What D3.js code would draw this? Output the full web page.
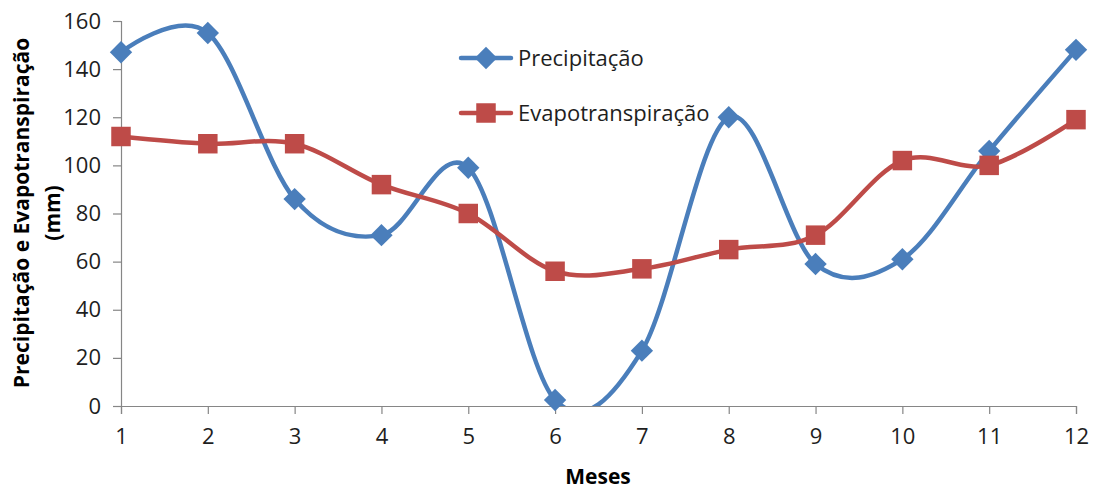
<!DOCTYPE html>
<html>
<head>
<meta charset="utf-8">
<script src="https://cdn.jsdelivr.net/npm/d3@7"></script>
<style>
  html, body { margin: 0; padding: 0; background: #fff; }
  svg { display: block; }
  text { font-family: "Open Sans", "Liberation Sans", sans-serif; }
</style>
</head>
<body>
<svg id="chart" width="1094" height="490"></svg>
<script>
// Monthly rainfall and evapotranspiration (mm)
const months = [1, 2, 3, 4, 5, 6, 7, 8, 9, 10, 11, 12];
const precipitacao = [147, 155, 86, 71, 99, 2.5, 23, 120, 59, 61, 106, 148];
const evapotranspiracao = [112, 109, 109, 92, 80, 56, 57, 65, 71, 102, 100, 119];
const yTicks = [0, 20, 40, 60, 80, 100, 120, 140, 160];
const seriesNames = ["Precipitação", "Evapotranspiração"];

const svg = d3.select("#chart");
const plot = { left: 121, right: 1076, top: 21, bottom: 406 };

const x = d3.scaleLinear().domain([1, 12]).range([plot.left, plot.right]);
const y = d3.scaleLinear().domain([0, 160]).range([plot.bottom, plot.top]);

const axisColor = "#868686";
const textColor = "#1e1e1e";
const blue = "#4A7EBB";
const red = "#BE4B48";

// Clip lines to the plot area
svg.append("defs").append("clipPath").attr("id", "plotClip")
  .append("rect")
  .attr("x", plot.left - 20).attr("y", plot.top - 20)
  .attr("width", plot.right - plot.left + 40)
  .attr("height", plot.bottom - plot.top + 20);

// Y axis
const yAxis = svg.append("g")
  .attr("transform", `translate(${plot.left},0)`)
  .call(d3.axisLeft(y).tickValues(yTicks).tickSize(8).tickPadding(12));
yAxis.select(".domain").attr("stroke", axisColor).attr("stroke-width", 1.2);
yAxis.selectAll(".tick line").attr("stroke", axisColor).attr("stroke-width", 1.2);
yAxis.selectAll(".tick text")
  .attr("fill", textColor).attr("font-size", 22)
  .attr("font-family", "'Open Sans', sans-serif");

// X axis
const xAxis = svg.append("g")
  .attr("transform", `translate(0,${plot.bottom})`)
  .call(d3.axisBottom(x).tickValues(months).tickFormat(d3.format("d")).tickSize(8).tickPadding(14));
xAxis.select(".domain").attr("stroke", axisColor).attr("stroke-width", 1.2);
xAxis.selectAll(".tick line").attr("stroke", axisColor).attr("stroke-width", 1.2);
xAxis.selectAll(".tick text")
  .attr("fill", textColor).attr("font-size", 22)
  .attr("font-family", "'Open Sans', sans-serif");

// Axis titles
svg.append("text")
  .attr("x", 598).attr("y", 484)
  .attr("text-anchor", "middle")
  .attr("font-size", 21).attr("font-weight", "bold").attr("fill", "#000")
  .text("Meses");

const yTitle = svg.append("text")
  .attr("transform", "translate(0,213) rotate(-90)")
  .attr("text-anchor", "middle")
  .attr("font-size", 21).attr("font-weight", "bold").attr("fill", "#000");
yTitle.append("tspan").attr("x", 0).attr("y", 29).text("Precipitação e Evapotranspiração");
yTitle.append("tspan").attr("x", 0).attr("y", 60).text("(mm)");

// Series: diamonds are squares turned 45 degrees
const series = [
  { name: seriesNames[0], values: precipitacao, color: blue, marker: d3.symbolSquare, size: 250, rotate: 45 },
  { name: seriesNames[1], values: evapotranspiracao, color: red, marker: d3.symbolSquare, size: 380, rotate: 0 }
];

const line = d3.line()
  .x((d, i) => x(months[i]))
  .y(d => y(d))
  .curve(d3.curveCardinal.tension(0));

const lines = svg.append("g").attr("clip-path", "url(#plotClip)");
series.forEach(s => {
  lines.append("path")
    .datum(s.values)
    .attr("d", line)
    .attr("fill", "none")
    .attr("stroke", s.color)
    .attr("stroke-width", 4.5)
    .attr("stroke-linejoin", "round")
    .attr("stroke-linecap", "round");
});

series.forEach(s => {
  svg.append("g").selectAll("path")
    .data(s.values)
    .join("path")
    .attr("transform", (d, i) => `translate(${x(months[i])},${y(d)}) rotate(${s.rotate})`)
    .attr("d", d3.symbol().type(s.marker).size(s.size))
    .attr("fill", s.color);
});

// Legend
const legend = svg.append("g");
const legendRows = [58, 113];
series.forEach((s, i) => {
  const g = legend.append("g").attr("transform", `translate(0,${legendRows[i]})`);
  g.append("line")
    .attr("x1", 461).attr("x2", 511)
    .attr("stroke", s.color).attr("stroke-width", 4.5).attr("stroke-linecap", "round");
  g.append("path")
    .attr("transform", `translate(486,0) rotate(${s.rotate})`)
    .attr("d", d3.symbol().type(s.marker).size(s.size))
    .attr("fill", s.color);
  g.append("text")
    .attr("x", 518).attr("y", 0).attr("dy", "0.35em")
    .attr("font-size", 22).attr("fill", textColor)
    .text(s.name);
});
</script>
</body>
</html>
